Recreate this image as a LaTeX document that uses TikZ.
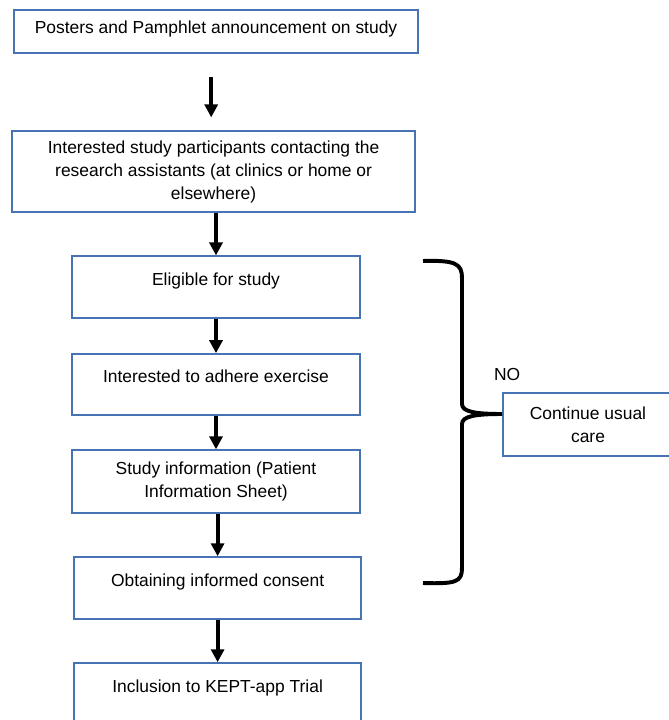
\documentclass[tikz,border=0pt]{standalone}
\usepackage{fontspec}
\setmainfont{Liberation Sans}
\definecolor{boxblue}{RGB}{71,114,180}
\usetikzlibrary{arrows.meta, positioning, calc}
\tikzset{
  flowbox/.style={draw=boxblue, line width=1.1pt, align=center, inner sep=2pt, font=\fontsize{12.4}{16.3}\selectfont},
  oneline/.style={text height=8pt, text depth=10.4pt},
  flowarrow/.style={line width=2.8pt, -{Triangle[width=9.2pt, length=9.2pt]}},
}
\begin{document}
\begin{tikzpicture}
  \useasboundingbox (0,0) rectangle (16.725,-18);
  \clip (0,0) rectangle (16.725,-18);

  % Recruitment steps
  \node[flowbox, text height=8pt, text depth=5.8pt, minimum width=10.1cm, minimum height=1.075cm] (posters) at (5.4,-0.79) {Posters and Pamphlet announcement on study};
  \node[flowbox, minimum width=10.075cm, minimum height=2.025cm] (contact) at (5.34,-4.29) {Interested study participants contacting the\\research assistants (at clinics or home or\\elsewhere)};
  \node[flowbox, oneline, minimum width=7.2cm, minimum height=1.55cm] (eligible) at (5.4,-7.18) {Eligible for study};
  \node[flowbox, oneline, minimum width=7.2cm, minimum height=1.525cm] (adhere) at (5.4,-9.61) {Interested to adhere exercise};
  \node[flowbox, minimum width=7.2cm, minimum height=1.575cm] (info) at (5.4,-12.04) {Study information (Patient\\Information Sheet)};
  \node[flowbox, oneline, minimum width=7.175cm, minimum height=1.55cm] (consent) at (5.44,-14.70) {Obtaining informed consent};
  \node[flowbox, oneline, minimum width=7.175cm, minimum height=1.55cm] (trial) at (5.44,-17.35) {Inclusion to KEPT-app Trial};

  % Exit branch
  \node[flowbox, minimum width=4.25cm, minimum height=1.575cm] (usualcare) at (14.70,-10.61) {Continue usual\\care};
  \node[font=\fontsize{12.4}{16.3}\selectfont, inner sep=0pt] (nolabel) at (12.68,-9.35) {NO};

  % Arrows
  \draw[flowarrow, shorten <=0.575cm, shorten >=0.325cm] ([xshift=-0.06cm]posters.south -| contact.north) -- ([xshift=-0.06cm]contact.north);
  \draw[flowarrow] (contact.south -| eligible.north) -- (eligible.north);
  \draw[flowarrow] (eligible) -- (adhere);
  \draw[flowarrow] (adhere) -- (info);
  \draw[flowarrow] (info.south -| consent.north) -- (consent.north);
  \draw[flowarrow] (consent) -- (trial);

  % Brace
  \draw[line width=2.8pt] (10.575,-6.525) .. controls (11.4,-6.5) and (11.55,-6.6) .. (11.55,-6.95)
    -- (11.55,-10.1) .. controls (11.55,-10.3) and (11.9,-10.35) .. (usualcare.west |- 0,-10.35)
    .. controls (11.9,-10.35) and (11.55,-10.4) .. (11.55,-10.6)
    -- (11.55,-14.2) .. controls (11.55,-14.55) and (11.4,-14.6) .. (10.575,-14.575);
\end{tikzpicture}
\end{document}
